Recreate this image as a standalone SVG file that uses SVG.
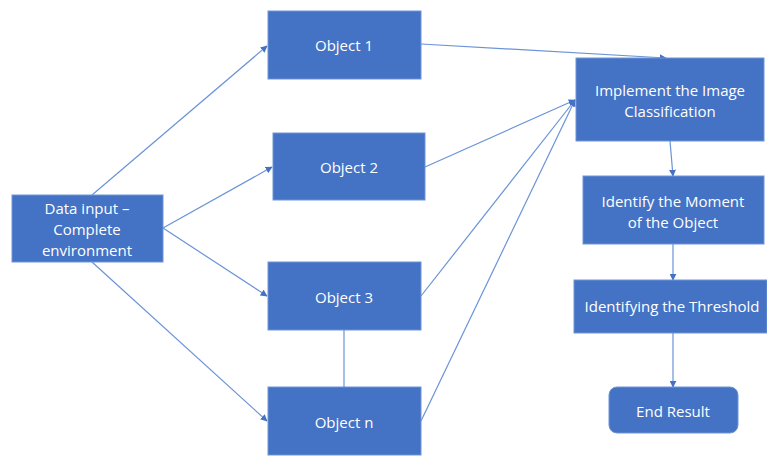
<svg xmlns="http://www.w3.org/2000/svg" width="767" height="468" viewBox="0 0 767 468">
<defs>
<style>
.box{fill:#4472C4;stroke:#6F95D6;stroke-width:1}
.t{font-family:"Open Sans","Liberation Sans",sans-serif;font-size:15px;fill:#fff;text-anchor:middle;dominant-baseline:central}
.c{stroke:#6A93D8;stroke-width:1.2;fill:none}
.a{marker-end:url(#ah)}
</style>
<marker id="ah" viewBox="0 0 10 10" refX="9" refY="5" markerWidth="7" markerHeight="7" markerUnits="userSpaceOnUse" orient="auto">
<path d="M0,0 L10,5 L0,10 z" fill="#4472C4"/>
</marker>
</defs>
<rect width="767" height="468" fill="#fff"/>
<g id="connectors">
<line class="c a" x1="92" y1="195" x2="267" y2="46"/>
<line class="c a" x1="163" y1="228" x2="272" y2="167"/>
<line class="c a" x1="163" y1="228" x2="267" y2="296"/>
<line class="c a" x1="92" y1="262" x2="267" y2="421"/>
<line class="c a" x1="421" y1="44" x2="666" y2="58"/>
<line class="c a" x1="425" y1="167" x2="575" y2="100"/>
<line class="c a" x1="421" y1="296" x2="575" y2="100"/>
<line class="c a" x1="421" y1="421" x2="575" y2="100"/>
<line class="c" x1="344" y1="330" x2="344" y2="387"/>
<line class="c a" x1="670" y1="141" x2="673" y2="176"/>
<line class="c a" x1="673" y1="244" x2="673" y2="280"/>
<line class="c a" x1="673" y1="333" x2="673" y2="387"/>
</g>
<g id="data-input"><rect class="box" x="12" y="195" width="151" height="67"/>
<text class="t" x="87" y="208">Data input –</text><text class="t" x="87" y="229">Complete</text><text class="t" x="87" y="250">environment</text></g>
<g id="object-1"><rect class="box" x="268" y="11" width="153" height="68"/><text class="t" x="344" y="45">Object 1</text></g>
<g id="object-2"><rect class="box" x="273" y="133" width="152" height="67"/><text class="t" x="349" y="167">Object 2</text></g>
<g id="object-3"><rect class="box" x="268" y="262" width="153" height="68"/><text class="t" x="344" y="297">Object 3</text></g>
<g id="object-n"><rect class="box" x="268" y="387" width="153" height="68"/><text class="t" x="344" y="422">Object n</text></g>
<g id="implement"><rect class="box" x="576" y="58" width="188" height="83"/>
<text class="t" x="670" y="90">Implement the Image</text><text class="t" x="670" y="111">Classification</text></g>
<g id="moment"><rect class="box" x="583" y="176" width="181" height="68"/>
<text class="t" x="673" y="201">Identify the Moment</text><text class="t" x="673" y="222">of the Object</text></g>
<g id="threshold"><rect class="box" x="574" y="280" width="193" height="53"/><text class="t" x="672" y="306">Identifying the Threshold</text></g>
<g id="end-result"><rect class="box" x="609" y="387" width="129" height="46" rx="8"/><text class="t" x="673" y="411">End Result</text></g>
</svg>
